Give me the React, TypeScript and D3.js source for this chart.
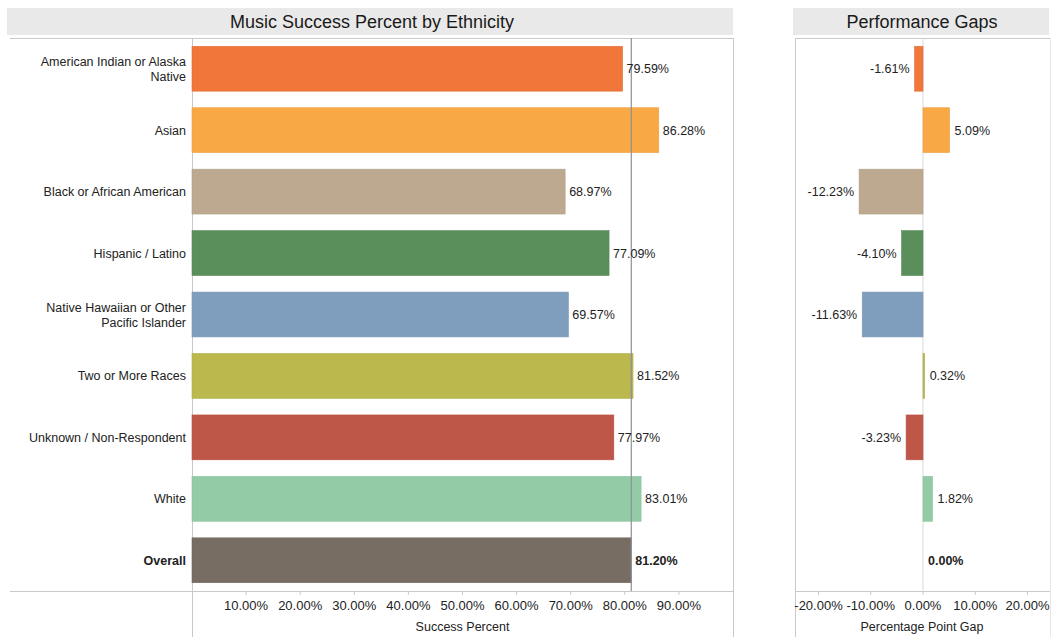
import React, { useEffect } from "react";
import * as d3 from "d3";

const categories = [
  "American Indian or Alaska Native",
  "Asian",
  "Black or African American",
  "Hispanic / Latino",
  "Native Hawaiian or Other Pacific Islander",
  "Two or More Races",
  "Unknown / Non-Respondent",
  "White",
  "Overall",
];
const labelLines = [
  ["American Indian or Alaska", "Native"],
  ["Asian"],
  ["Black or African American"],
  ["Hispanic / Latino"],
  ["Native Hawaiian or Other", "Pacific Islander"],
  ["Two or More Races"],
  ["Unknown / Non-Respondent"],
  ["White"],
  ["Overall"],
];
const successPct = [79.59, 86.28, 68.97, 77.09, 69.57, 81.52, 77.97, 83.01, 81.2];
const gapPct = [-1.61, 5.09, -12.23, -4.1, -11.63, 0.32, -3.23, 1.82, 0.0];
const colors = [
  "#F0763A",
  "#F8A946",
  "#BDA890",
  "#5A8F5C",
  "#7F9EBE",
  "#BBB84E",
  "#BF5748",
  "#93CBA6",
  "#776D63",
];
const successTicks = [10, 20, 30, 40, 50, 60, 70, 80, 90];
const gapTicks = [-20, -10, 0, 10, 20];
const overallValue = 81.2;

const FONT = "'Liberation Sans', Arial, sans-serif";
const fmt = (v: number) => v.toFixed(2) + "%";

export default function App() {
  useEffect(() => {
    document.body.style.margin = "0";
  }, []);

  const W = 1056;
  const H = 639;
  const top = 38;
  const bottom = 591;

  const y = d3
    .scaleBand<string>()
    .domain(categories)
    .range([top, bottom])
    .paddingInner(0.27)
    .paddingOuter(0.135);

  const xL = d3.scaleLinear().domain([0, 100]).range([192, 733]);
  const xR = d3.scaleLinear().domain([-24.5, 24.5]).range([795, 1051]);

  const border = "#c9c9c9";
  const textColor = "#222";
  const labelSize = 12.5;
  const tickSize = 13;

  return (
    <svg width={W} height={H} style={{ display: "block", background: "#fff" }} fontFamily={FONT}>
      {/* Title bands */}
      <rect x={7} y={8} width={726} height={27} fill="#e9e9e9" />
      <text x={372} y={28} textAnchor="middle" fontSize={18} fill="#1a1a1a">
        Music Success Percent by Ethnicity
      </text>
      <rect x={793} y={8} width={256} height={27} fill="#e9e9e9" />
      <text x={922} y={28} textAnchor="middle" fontSize={18} fill="#1a1a1a">
        Performance Gaps
      </text>

      {/* Left panel frame */}
      <line x1={10} x2={733} y1={top + 0.5} y2={top + 0.5} stroke={border} />
      <line x1={10} x2={733} y1={bottom + 0.5} y2={bottom + 0.5} stroke={border} />
      <line x1={192.5} x2={192.5} y1={top} y2={637} stroke={border} />
      <line x1={733.5} x2={733.5} y1={top} y2={637} stroke={border} />

      {/* Right panel frame */}
      <line x1={795} x2={1050} y1={top + 0.5} y2={top + 0.5} stroke={border} />
      <line x1={795} x2={1050} y1={bottom + 0.5} y2={bottom + 0.5} stroke={border} />
      <line x1={795.5} x2={795.5} y1={top} y2={637} stroke={border} />
      <line x1={1050.5} x2={1050.5} y1={top} y2={637} stroke="#e6e6e6" />

      {/* Row labels */}
      {categories.map((c, i) => {
        const lines = labelLines[i];
        const cy = (y(c) as number) + y.bandwidth() / 2;
        const lh = 15;
        const y0 = cy - ((lines.length - 1) * lh) / 2 + 4.5;
        return (
          <text
            key={c}
            textAnchor="end"
            fontSize={labelSize}
            fill={textColor}
            fontWeight={c === "Overall" ? "bold" : "normal"}
          >
            {lines.map((l, j) => (
              <tspan key={j} x={186} y={y0 + j * lh}>
                {l}
              </tspan>
            ))}
          </text>
        );
      })}

      {/* Left bars */}
      {categories.map((c, i) => (
        <rect
          key={c}
          x={xL(0)}
          y={y(c)}
          width={xL(successPct[i]) - xL(0)}
          height={y.bandwidth()}
          fill={colors[i]}
          stroke={d3.color(colors[i])!.darker(0.15).toString()}
          strokeWidth={0.6}
        />
      ))}

      {/* Reference line */}
      <line
        x1={xL(overallValue)}
        x2={xL(overallValue)}
        y1={top}
        y2={bottom}
        stroke="#8c9196"
        strokeWidth={1.2}
      />

      {/* Left value labels */}
      {categories.map((c, i) => (
        <text
          key={c}
          x={xL(successPct[i]) + 4}
          y={(y(c) as number) + y.bandwidth() / 2 + 4.5}
          fontSize={labelSize}
          fill={textColor}
          fontWeight={c === "Overall" ? "bold" : "normal"}
        >
          {fmt(successPct[i])}
        </text>
      ))}

      {/* Left axis */}
      {successTicks.map((t) => (
        <g key={t}>
          <line x1={xL(t)} x2={xL(t)} y1={bottom + 1} y2={bottom + 4} stroke={border} />
          <text x={xL(t)} y={bottom + 19} textAnchor="middle" fontSize={tickSize} fill={textColor}>
            {fmt(t)}
          </text>
        </g>
      ))}
      <text x={(xL(0) + xL(100)) / 2} y={631} textAnchor="middle" fontSize={labelSize} fill={textColor}>
        Success Percent
      </text>

      {/* Right zero line */}
      <line x1={xR(0)} x2={xR(0)} y1={top} y2={bottom} stroke="#d9d9d9" />

      {/* Right bars */}
      {categories.map((c, i) => {
        const x0 = Math.min(xR(0), xR(gapPct[i]));
        const w = Math.abs(xR(gapPct[i]) - xR(0));
        return (
          <rect
            key={c}
            x={x0}
            y={y(c)}
            width={w}
            height={y.bandwidth()}
            fill={colors[i]}
            stroke={d3.color(colors[i])!.darker(0.15).toString()}
            strokeWidth={0.6}
          />
        );
      })}

      {/* Right value labels */}
      {categories.map((c, i) => {
        const v = gapPct[i];
        const neg = v < 0;
        return (
          <text
            key={c}
            x={neg ? xR(v) - 5 : xR(v) + 5}
            y={(y(c) as number) + y.bandwidth() / 2 + 4.5}
            textAnchor={neg ? "end" : "start"}
            fontSize={labelSize}
            fill={textColor}
            fontWeight={c === "Overall" ? "bold" : "normal"}
          >
            {fmt(v)}
          </text>
        );
      })}

      {/* Right axis */}
      {gapTicks.map((t) => (
        <g key={t}>
          <line x1={xR(t)} x2={xR(t)} y1={bottom + 1} y2={bottom + 4} stroke={border} />
          <text x={xR(t)} y={bottom + 19} textAnchor="middle" fontSize={tickSize} fill={textColor}>
            {fmt(t)}
          </text>
        </g>
      ))}
      <text x={922} y={631} textAnchor="middle" fontSize={labelSize} fill={textColor}>
        Percentage Point Gap
      </text>
    </svg>
  );
}
